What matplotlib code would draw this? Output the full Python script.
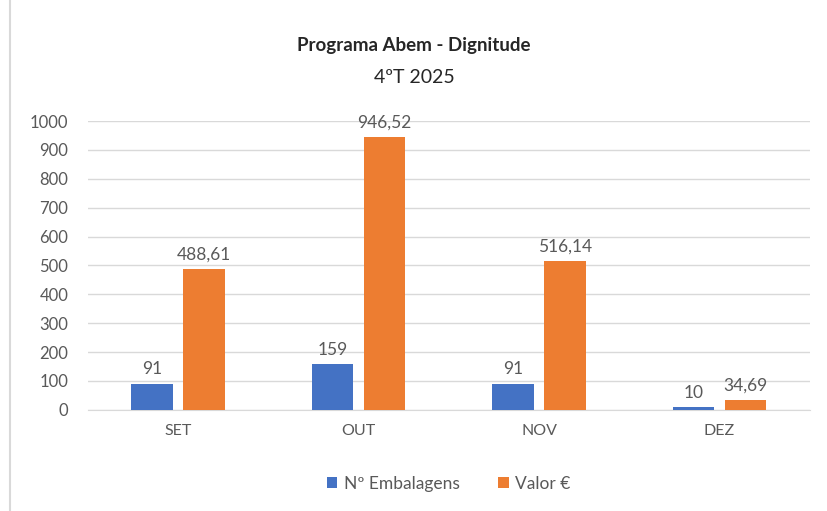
import numpy as np
import matplotlib
matplotlib.use("Agg")
import matplotlib.pyplot as plt
from matplotlib.patches import Rectangle

# dados do gráfico
meses = ["SET", "OUT", "NOV", "DEZ"]
embalagens = [91, 159, 91, 10]
valor = [488.61, 946.52, 516.14, 34.69]
yticks = list(range(0, 1001, 100))

azul = "#4472C4"
laranja = "#ED7D31"
cinza = "#595959"

plt.rcParams["font.family"] = ["Lato", "DejaVu Sans"]

fig = plt.figure(figsize=(8.28, 5.11), dpi=100)
ax = fig.add_axes([0.106, 0.198, 0.872, 0.565])

x = np.arange(len(meses))
w = 0.23
b1 = ax.bar(x - 0.145, embalagens, w, color=azul, label="Nº Embalagens", zorder=3)
b2 = ax.bar(x + 0.145, valor, w, color=laranja, label="Valor €", zorder=3)

def fmt(v):
    if float(v).is_integer():
        return str(int(v))
    return ("%.2f" % v).replace(".", ",")

for bars, vals in ((b1, embalagens), (b2, valor)):
    for r, v in zip(bars, vals):
        ax.text(r.get_x() + r.get_width() / 2, v + 22, fmt(v),
                ha="center", va="bottom", fontsize=12.5, color=cinza)

ax.set_xlim(-0.5, len(meses) - 0.5)
ax.set_ylim(0, 1000)
ax.set_yticks(yticks)
ax.set_xticks(x)
ax.set_xticklabels(meses)
ax.tick_params(axis="y", length=0, labelsize=12, labelcolor=cinza, pad=14)
ax.tick_params(axis="x", length=0, labelsize=11.5, labelcolor=cinza, pad=10)
ax.grid(axis="y", color="#D9D9D9", linewidth=1, zorder=0)
for s in ["top", "right", "left"]:
    ax.spines[s].set_visible(False)
ax.spines["bottom"].set_color("#D9D9D9")

fig.text(0.5, 0.9, "Programa Abem - Dignitude", ha="center", fontsize=13.5,
         fontweight="bold", color="#262626")
fig.text(0.5, 0.838, "4ºT 2025", ha="center", fontsize=14, color="#262626")

ax.legend(loc="upper center", bbox_to_anchor=(0.5, -0.175), ncol=2, frameon=False,
          fontsize=12.5, labelcolor=cinza, handlelength=0.6, handleheight=0.6,
          columnspacing=2.2, handletextpad=0.4)

fig.patches.append(Rectangle((0.012, -0.02), 1.0, 1.03, transform=fig.transFigure,
                             fill=False, edgecolor="#D9D9D9", linewidth=1.5))

fig.savefig("out.png", dpi=100)
